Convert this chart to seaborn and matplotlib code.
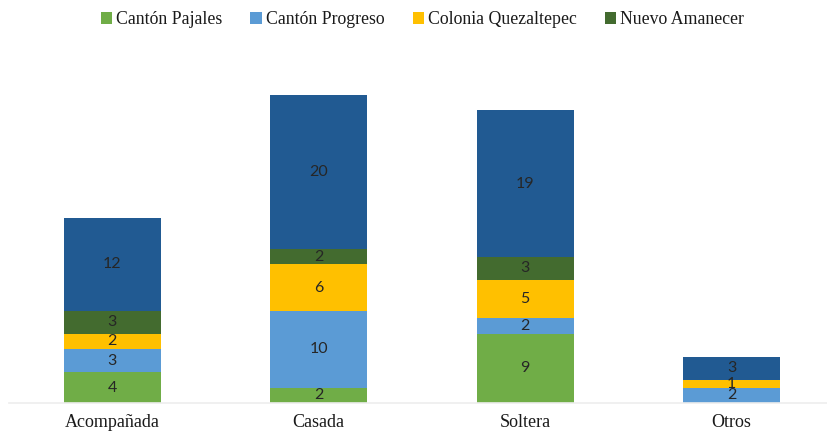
import numpy as np
import pandas as pd
import matplotlib
matplotlib.use('Agg')
import matplotlib.pyplot as plt
from matplotlib.patches import Patch
import seaborn as sns

# Data
categorias = ['Acompañada', 'Casada', 'Soltera', 'Otros']
series = ['Cantón Pajales', 'Cantón Progreso', 'Colonia Quezaltepec', 'Nuevo Amanecer', '']
pajales = [4, 2, 9, 0]
progreso = [3, 10, 2, 2]
quezaltepec = [2, 6, 5, 1]
amanecer = [3, 2, 3, 0]
otros_total = [12, 20, 19, 3]

colores = ['#70AD47', '#5B9BD5', '#FFC000', '#436B2F', '#215A92']

sns.set_theme(style='white')
plt.rcParams['font.family'] = ['Liberation Serif', 'DejaVu Serif']

valores = np.array([pajales, progreso, quezaltepec, amanecer, otros_total])
acumulado = valores.cumsum(axis=0)

fig = plt.figure(figsize=(8.28, 4.33), dpi=100)
ax = fig.add_axes([0.0106, 0.0693, 0.9976, 0.800])

# draw cumulative totals from the top layer down so each segment shows
for k in range(len(series) - 1, -1, -1):
    df = pd.DataFrame({'cat': categorias, 'val': acumulado[k]})
    sns.barplot(data=df, x='cat', y='val', color=colores[k], saturation=1,
                width=0.47, ax=ax, linewidth=0)

# segment labels
for k in range(len(series)):
    for i in range(len(categorias)):
        v = valores[k, i]
        if v == 0:
            continue
        y = acumulado[k, i] - v / 2
        ax.text(i, y, str(v), ha='center', va='center', fontsize=11.5,
                color='#262626', family=['Lato', 'DejaVu Sans'])

ax.set_xlim(-0.5, 3.5)
ax.set_ylim(0, 45)
ax.set_xlabel('')
ax.set_ylabel('')
ax.set_yticks([])
for s in ['left', 'right', 'top']:
    ax.spines[s].set_visible(False)
ax.spines['bottom'].set_color('#EDEDED')
ax.spines['bottom'].set_linewidth(1.2)
ax.tick_params(axis='x', length=0, labelsize=13, pad=8, colors='#1a1a1a')

handles = [Patch(facecolor=colores[k], edgecolor='none') for k in range(4)]
fig.legend(handles, series[:4], loc='center', bbox_to_anchor=(0.51, 0.955),
           ncol=4, frameon=False, fontsize=12.8, handlelength=0.65,
           handleheight=0.65, handletextpad=0.2, columnspacing=1.6,
           labelcolor='#1a1a1a')

fig.savefig('out.png', dpi=100)
